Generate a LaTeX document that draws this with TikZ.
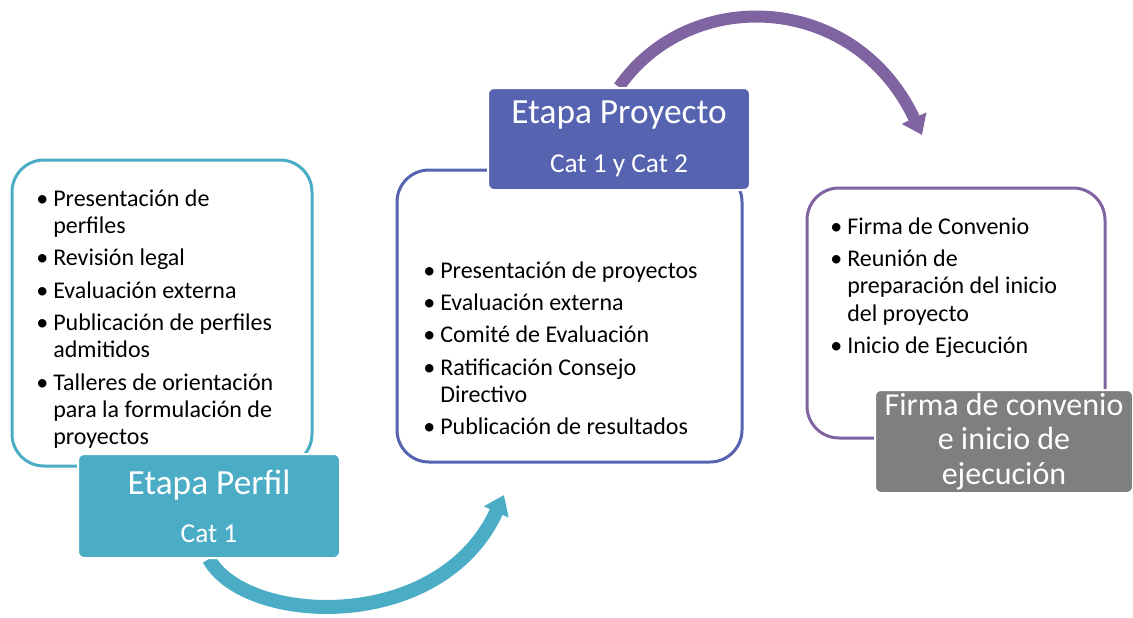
\documentclass[tikz,border=0pt]{standalone}
\usepackage{fontspec}
\setmainfont{Carlito}
\usetikzlibrary{arrows.meta,backgrounds}

\definecolor{perfilblue}{RGB}{75,172,198}
\definecolor{proyblue}{RGB}{85,99,176}
\definecolor{convpurple}{RGB}{128,100,162}
\definecolor{convgray}{RGB}{127,127,127}

\newcommand{\itemfont}{\fontsize{18}{20.5}\selectfont}
\newcommand{\bul}{\makebox[12.75pt][l]{\textbullet}}

\begin{document}
\begin{tikzpicture}[x=0.75pt, y=-0.75pt,
  listbox/.style={draw, line width=2.25pt, rounded corners=24pt, fill=white, inner sep=0pt},
  stagebox/.style={draw=white, line width=1.5pt, rounded corners=4.5pt, text=white, align=center, inner sep=0pt, minimum width=196.5pt},
  itemtext/.style={anchor=base west, inner sep=0pt, font=\itemfont},
  flowarrow/.style={-{Triangle[width=19.5pt, length=14pt]}}]
\useasboundingbox (0,0) rectangle (1133,618);

% list boxes
\node[listbox, draw=perfilblue, minimum width=225pt, minimum height=229.5pt] (perfilbox) at (162,313) {};
\node[listbox, draw=proyblue, minimum width=258.75pt, minimum height=219pt] (proybox) at (569.5,316) {};
\node[listbox, draw=convpurple, minimum width=223.5pt, minimum height=187.5pt] (convbox) at (956,313) {};

\node[itemtext] (perfillist) at (36,206) {\begin{tabular}[t]{@{}l@{}l@{}}
\bul & Presentación de\\
     & perfiles\\[3.75pt]
\bul & Revisión legal\\[3.75pt]
\bul & Evaluación externa\\[3.75pt]
\bul & Publicación de perfiles\\
     & admitidos\\[3.75pt]
\bul & Talleres de orientación\\
     & para la formulación de\\
     & proyectos
\end{tabular}};

\node[itemtext] (proylist) at (423,278) {\begin{tabular}[t]{@{}l@{}l@{}}
\bul & Presentación de proyectos\\[3.75pt]
\bul & Evaluación externa\\[3.75pt]
\bul & Comité de Evaluación\\[3.75pt]
\bul & Ratificación Consejo\\
     & Directivo\\[3.75pt]
\bul & Publicación de resultados
\end{tabular}};

\node[itemtext] (convlist) at (830,234) {\begin{tabular}[t]{@{}l@{}l@{}}
\bul & Firma de Convenio\\[3.75pt]
\bul & Reunión de\\
     & preparación del inicio\\
     & del proyecto\\[3.75pt]
\bul & Inicio de Ejecución
\end{tabular}};

% stage labels
\node[stagebox, fill=perfilblue, minimum height=78pt, font=\fontsize{26.5}{36}\selectfont] (perfillab) at (209,506)
  {Etapa Perfil\\{\fontsize{20.5}{24}\selectfont Cat 1}};
\node[stagebox, fill=proyblue, minimum height=76.5pt, font=\fontsize{26.5}{37}\selectfont] (proylab) at (619,139)
  {\raisebox{-3pt}{Etapa Proyecto}\\{\fontsize{20.5}{24}\selectfont\raisebox{-3pt}{Cat 1 y Cat 2}}};
\node[stagebox, fill=convgray, minimum width=193.5pt, minimum height=77.25pt, font=\fontsize{24}{26}\selectfont] (convlab) at (1004,441.5)
  {Firma de convenio\\e inicio de\\ejecución};

% arrows
\begin{scope}[on background layer]
\coordinate (perfilend) at (504,495);
\coordinate (proyend) at (922,135);
\draw[flowarrow, perfilblue, line width=10.5pt] (perfillab.south) .. controls (245,625) and (440,635) .. (perfilend);
\draw[flowarrow, convpurple, line width=9pt] (proylab.north) .. controls (690,-15) and (855,-8) .. (proyend);
\end{scope}
\end{tikzpicture}
\end{document}
